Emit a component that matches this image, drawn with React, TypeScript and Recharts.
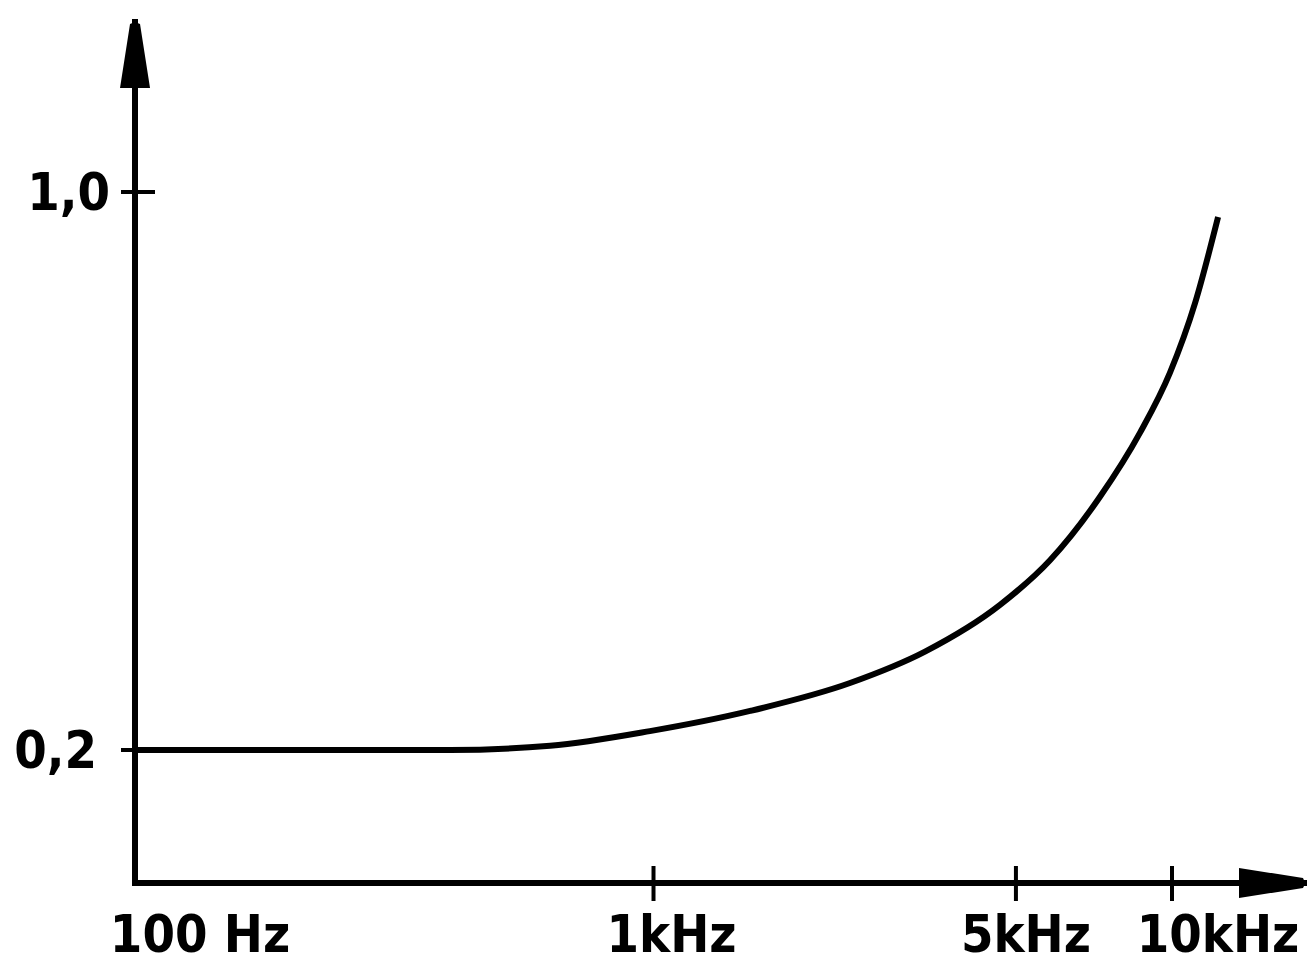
import { LineChart, Line, XAxis, YAxis } from "recharts";

// response curve (frequency in Hz, relative value)
const freqHz = [100, 208, 405, 632, 984, 1536, 2393, 3339, 4659, 5817, 7262, 8677, 9911, 11080, 12270];
const gain = [0.2, 0.2, 0.2, 0.206, 0.227, 0.256, 0.296, 0.341, 0.408, 0.472, 0.563, 0.655, 0.741, 0.841, 0.964];

const xTicks = [100, 1000, 5000, 10000];
const xTickLabels = ["100 Hz", "1kHz", "5kHz", "10kHz"];
const yTicks = [0.2, 1.0];
const yTickLabels = ["0,2", "1,0"];

const data = freqHz.map((f, i) => ({ f, g: gain[i] }));

const FONT = "'DejaVu Sans Condensed', 'DejaVu Sans', sans-serif";

// labels in the drawing sit a bit off their tick marks
const xLabelDx: Record<number, number> = { 100: 65, 1000: 18, 5000: 10, 10000: 46 };
const yLabelDx: Record<number, number> = { 0.2: -8, 1: 5 };

function XTick(props: any) {
  const { x, y, payload } = props;
  const v = payload.value;
  const i = xTicks.indexOf(v);
  return (
    <g>
      {v !== 100 && (
        <line x1={x} x2={x} y1={y - 17} y2={y + 18} stroke="#000" strokeWidth={4} />
      )}
      <text
        x={x + xLabelDx[v]}
        y={y + 69}
        textAnchor="middle"
        fill="#000"
        fontFamily={FONT}
        fontWeight="bold"
        fontSize={52}
      >
        {xTickLabels[i]}
      </text>
    </g>
  );
}

function YTick(props: any) {
  const { x, y, payload } = props;
  const v = payload.value;
  const i = yTicks.indexOf(v);
  return (
    <g>
      <line x1={x - 14} x2={x + 20} y1={y} y2={y} stroke="#000" strokeWidth={4} />
      <text
        x={x - 30 + (yLabelDx[v] ?? 0)}
        y={y + 18}
        textAnchor="end"
        fill="#000"
        fontFamily={FONT}
        fontWeight="bold"
        fontSize={52}
      >
        {yTickLabels[i]}
      </text>
    </g>
  );
}

export default function App() {
  return (
    <div style={{ position: "absolute", left: 0, top: 0, width: 1307, height: 966, background: "#fff" }}>
      <svg width={0} height={0} style={{ position: "absolute" }}>
        <defs>
          <marker
            id="arrowhead"
            markerWidth={70}
            markerHeight={32}
            refX={66}
            refY={15}
            orient="auto-start-reverse"
            markerUnits="userSpaceOnUse"
          >
            <path d="M0,0 L64,10 Q67,15 64,20 L0,30 Z" fill="#000" />
          </marker>
        </defs>
      </svg>
      <LineChart width={1307} height={966} data={data} margin={{ top: 22, right: 2, bottom: 0, left: 0 }}>
        <XAxis
          dataKey="f"
          type="number"
          scale="log"
          domain={[100, 18050]}
          allowDataOverflow
          ticks={xTicks}
          interval={0}
          height={83}
          tickSize={0}
          tickMargin={0}
          tickLine={false}
          axisLine={{ stroke: "#000", strokeWidth: 6, strokeLinecap: "square", markerEnd: "url(#arrowhead)" }}
          tick={XTick}
        />
        <YAxis
          type="number"
          domain={[0.0093, 1.2437]}
          allowDataOverflow
          ticks={yTicks}
          interval={0}
          width={135}
          tickSize={0}
          tickMargin={0}
          tickLine={false}
          axisLine={{ stroke: "#000", strokeWidth: 6, strokeLinecap: "square", markerStart: "url(#arrowhead)" }}
          tick={YTick}
        />
        <Line
          dataKey="g"
          type="monotone"
          stroke="#000"
          strokeWidth={6}
          dot={false}
          activeDot={false}
          isAnimationActive={false}
        />
      </LineChart>
    </div>
  );
}
